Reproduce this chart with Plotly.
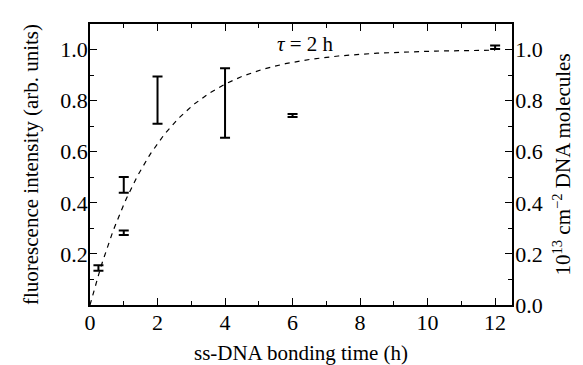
import numpy as np
import plotly.graph_objects as go

# Measured fluorescence intensity vs. ss-DNA bonding time
time_h = [0.25, 1.0, 1.0, 2.0, 4.0, 6.0, 12.0]
intensity = [0.145, 0.283, 0.470, 0.802, 0.791, 0.742, 1.009]
intensity_err = [0.011, 0.009, 0.031, 0.092, 0.136, 0.006, 0.007]

# Saturation model 1 - exp(-t / tau)
tau_h = 2.0
model_end_h = 12.0

x_ticks = [0, 2, 4, 6, 8, 10, 12]
left_ticks = [0.2, 0.4, 0.6, 0.8, 1.0]
right_ticks = [0.0, 0.2, 0.4, 0.6, 0.8, 1.0]

FONT = "Times New Roman, Times, Liberation Serif, DejaVu Serif, serif"
t_model = np.linspace(0, model_end_h, 200)
n_model = 1 - np.exp(-t_model / tau_h)

fig = go.Figure()
fig.add_trace(go.Scatter(
    x=t_model, y=n_model, mode="lines",
    line=dict(color="black", width=1.2, dash="5px,5px"),
    hoverinfo="skip", showlegend=False,
))
fig.add_trace(go.Scatter(
    x=time_h, y=intensity, mode="markers",
    marker=dict(size=1, color="rgba(0,0,0,0)"),
    error_y=dict(type="data", array=intensity_err, visible=True,
                 color="black", thickness=2, width=5),
    showlegend=False,
))
# invisible trace to attach the right axis
fig.add_trace(go.Scatter(x=[0], y=[0], yaxis="y2", mode="markers",
                         marker=dict(size=1, color="rgba(0,0,0,0)"),
                         hoverinfo="skip", showlegend=False))

axis_common = dict(
    showline=True, linecolor="black", linewidth=1.5,
    ticks="inside", ticklen=7, tickwidth=1.3, tickcolor="black",
    showgrid=False, zeroline=False, automargin=False,
    tickfont=dict(family=FONT, size=22, color="black"),
)

fig.update_layout(
    width=583, height=365,
    margin=dict(l=90, r=71, t=24, b=60),
    plot_bgcolor="white", paper_bgcolor="white",
    font=dict(family=FONT, size=21, color="black"),
    xaxis=dict(
        **axis_common, range=[0, 12.5], tickvals=x_ticks,
        mirror="ticks", ticklabelstandoff=-3,
        minor=dict(ticks="inside", dtick=1, tick0=0, ticklen=4,
                   tickwidth=1.3, tickcolor="black"),
        title=dict(text="ss-DNA bonding time (h)",
                   font=dict(family=FONT, size=21), standoff=12),
    ),
    yaxis=dict(
        **axis_common, range=[0, 1.1], tickvals=left_ticks,
        tickformat=".1f", ticklabelstandoff=-4,
        minor=dict(ticks="inside", dtick=0.1, tick0=0, ticklen=4,
                   tickwidth=1.3, tickcolor="black"),
        title=dict(text="fluorescence intensity (arb. units)",
                   font=dict(family=FONT, size=21), standoff=16),
    ),
    yaxis2=dict(
        **axis_common, range=[0, 1.1], tickvals=right_ticks,
        tickformat=".1f", overlaying="y", side="right",
        ticklabelstandoff=-3,
        minor=dict(ticks="inside", dtick=0.1, tick0=0, ticklen=4,
                   tickwidth=1.3, tickcolor="black"),
        title=dict(text="10<sup>13</sup> cm<sup>\u22122</sup> DNA molecules",
                   font=dict(family=FONT, size=21), standoff=14),
    ),
    annotations=[dict(
        x=6.37, y=1.02, xref="x", yref="y", showarrow=False,
        text="<i>\u03c4</i> = 2 h",
        font=dict(family=FONT, size=21, color="black"),
    )],
)

fig.write_html("out.html")
